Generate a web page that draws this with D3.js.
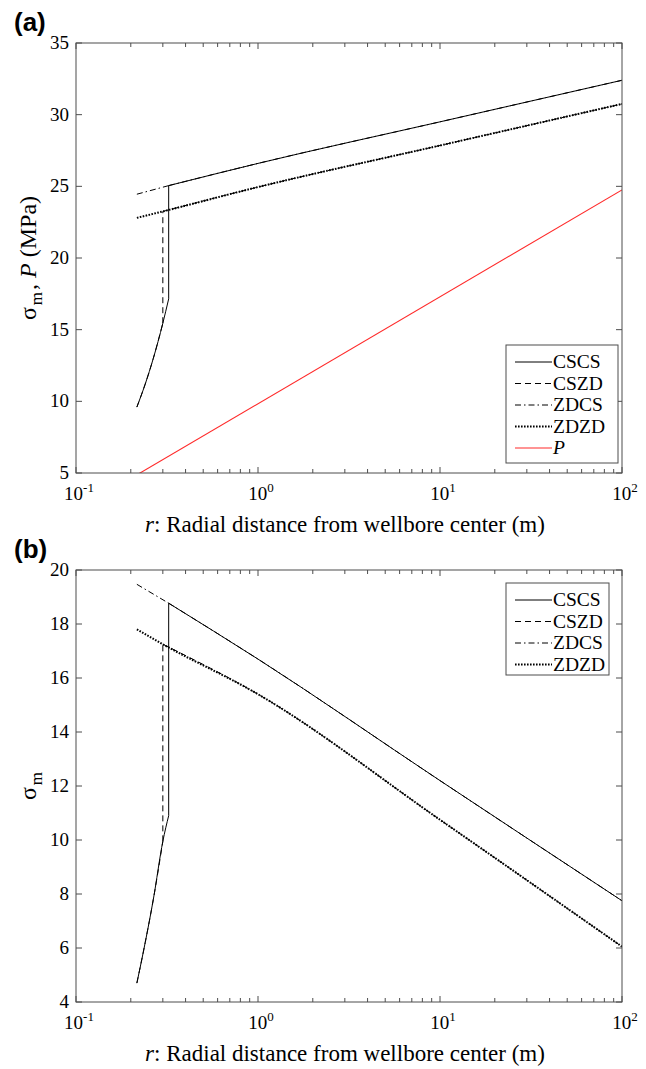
<!DOCTYPE html>
<html>
<head>
<meta charset="utf-8">
<script src="https://cdn.jsdelivr.net/npm/d3@7"></script>
<style>
  body { margin: 0; background: #fff; }
  svg { display: block; }
</style>
</head>
<body>
<svg id="drawing_region"></svg>
<script>
// ---- data ----
const seriesNames = ['CSCS', 'CSZD', 'ZDCS', 'ZDZD', 'P'];

// plastic zone (shared by CS-type failure curves)
const plasticR = [0.216, 0.240, 0.266, 0.30, 0.323];
const plasticA = [9.6, 11.2, 13.0, 15.45, 17.15];
const plasticB = [4.7, 6.2, 7.8, 9.95, 10.9];

// elastic branch after the CS jump
const elasticCSR = [0.323, 1, 10, 100];
const elasticCSA = [25.05, 26.6, 29.5, 32.4];
const elasticCSB = [18.77, 16.7, 12.2, 7.75];

// ZD branch (whole range)
const elasticZDR = [0.216, 0.30, 1, 10, 100];
const elasticZDA = [22.8, 23.25, 24.95, 27.85, 30.75];
const elasticZDB = [17.8, 17.25, 15.4, 10.75, 6.05];

// ZDCS before joining CS branch
const zdcsR = [0.216, 0.323];
const zdcsA = [24.45, 25.05];
const zdcsB = [19.47, 18.77];

// pore pressure
const pR = [0.216, 100];
const pA = [4.87, 24.75];

const yTicksA = [5, 10, 15, 20, 25, 30, 35];
const yTicksB = [4, 6, 8, 10, 12, 14, 16, 18, 20];
const xDecades = [0.1, 1, 10, 100];
const xExponents = ['-1', '0', '1', '2'];

const SERIF = '"Liberation Serif", "Times New Roman", serif';

function zip(rs, vs) { return rs.map((r, i) => ({ r: r, v: vs[i] })); }

// each series is a list of segments; segments are joined end to end
function buildSeries(plastic, csEl, zdEl, zdcs, p) {
    let out = {};
    const pl = zip(plasticR, plastic);
    const cs = zip(elasticCSR, csEl);
    const zd = zip(elasticZDR, zdEl);
    out.CSCS = [pl, [pl[4], cs[0]], cs];
    out.CSZD = [pl.slice(0, 4), [pl[3], zd[1]], zd.slice(1)];
    out.ZDCS = [zip(zdcsR, zdcs), cs];
    out.ZDZD = [zd];
    if (p) out.P = [zip(pR, p)];
    return out;
}

const styles = {
    CSCS: { color: '#000', dash: null, width: 1 },
    CSZD: { color: '#000', dash: '6,4', width: 1 },
    ZDCS: { color: '#000', dash: '6,3,1.5,3', width: 1 },
    ZDZD: { color: '#000', dash: '1.6,1.4', width: 2 },
    P:    { color: '#ff2a2a', dash: null, width: 1.1 }
};

class LogLineChart {
    constructor(config, data) {
        this.config = {
            parent: config.parent,
            left: config.left,
            top: config.top,
            width: config.width,
            height: config.height,
            yDomain: config.yDomain,
            yTicks: config.yTicks,
            tag: config.tag,
            ylabel: config.ylabel,
            legend: config.legend,
            names: config.names,
            id: config.id
        };
        this.data = data;
        this.init();
    }

    init() {
        let self = this;
        self.svg = d3.select(self.config.parent).append('g')
            .attr('transform', `translate(${self.config.left}, ${self.config.top})`);
        self.xScale = d3.scaleLog().domain([0.1, 100]).range([0, self.config.width]);
        self.yScale = d3.scaleLinear().domain(self.config.yDomain).range([self.config.height, 0]);
    }

    update() {
        let self = this;
        self.line = d3.line()
            .x(d => self.xScale(d.r))
            .y(d => self.yScale(d.v))
            .curve(d3.curveMonotoneX);
        self.render();
    }

    segPath(segs) {
        let self = this;
        // vertical jumps are 2-point segments, drawn straight
        return segs.map(s => s.length === 2 && s[0].r === s[1].r
            ? `M${self.xScale(s[0].r)},${self.yScale(s[0].v)}V${self.yScale(s[1].v)}`
            : self.line(s)).join('');
    }

    render() {
        let self = this;
        const W = self.config.width, H = self.config.height;
        const axisColor = '#4d4d4d';

        self.svg.append('clipPath').attr('id', 'clip' + self.config.id)
            .append('rect').attr('width', W).attr('height', H);

        const plot = self.svg.append('g').attr('clip-path', `url(#clip${self.config.id})`);
        self.config.names.forEach(name => {
            const st = styles[name];
            plot.append('path')
                .attr('d', self.segPath(self.data[name]))
                .attr('fill', 'none')
                .attr('stroke', st.color)
                .attr('stroke-width', st.width)
                .attr('stroke-dasharray', st.dash);
        });

        // box
        self.svg.append('rect')
            .attr('width', W).attr('height', H)
            .attr('fill', 'none').attr('stroke', axisColor).attr('stroke-width', 1);

        // x ticks (log, major + minor, inward on top and bottom)
        self.xScale.ticks().forEach(t => {
            const major = xDecades.some(d => Math.abs(d - t) < 1e-9);
            const len = major ? 6 : 4;
            const x = self.xScale(t);
            self.svg.append('line').attr('x1', x).attr('x2', x).attr('y1', H).attr('y2', H - len)
                .attr('stroke', axisColor);
            self.svg.append('line').attr('x1', x).attr('x2', x).attr('y1', 0).attr('y2', len)
                .attr('stroke', axisColor);
        });
        xDecades.forEach((d, i) => {
            const t = self.svg.append('text')
                .attr('x', self.xScale(d) + 3).attr('y', H + 27)
                .attr('text-anchor', 'middle')
                .attr('font-family', SERIF)
                .attr('font-size', 19);
            t.append('tspan').text('10');
            t.append('tspan').attr('dy', -8).attr('font-size', 13).text(xExponents[i]);
        });

        // y ticks
        self.config.yTicks.forEach(v => {
            const y = self.yScale(v);
            self.svg.append('line').attr('x1', 0).attr('x2', 6).attr('y1', y).attr('y2', y)
                .attr('stroke', axisColor);
            self.svg.append('line').attr('x1', W).attr('x2', W - 6).attr('y1', y).attr('y2', y)
                .attr('stroke', axisColor);
            self.svg.append('text')
                .attr('x', -7).attr('y', y + 6)
                .attr('text-anchor', 'end')
                .attr('font-family', SERIF)
                .attr('font-size', 19)
                .text(v);
        });

        // x label
        const xl = self.svg.append('text')
            .attr('x', W / 2 - 4).attr('y', H + 59)
            .attr('text-anchor', 'middle')
            .attr('font-family', SERIF)
            .attr('font-size', 23);
        xl.append('tspan').attr('font-style', 'italic').text('r');
        xl.append('tspan').text(': Radial distance from wellbore center (m)');

        // y label
        const yl = self.svg.append('text')
            .attr('transform', `translate(-40, ${H / 2}) rotate(-90)`)
            .attr('text-anchor', 'middle')
            .attr('font-family', SERIF)
            .attr('font-size', 24);
        self.config.ylabel(yl);

        // panel tag
        self.svg.append('text')
            .attr('x', -62).attr('y', -12)
            .attr('font-family', '"Liberation Sans", Arial, sans-serif')
            .attr('font-weight', 'bold')
            .attr('font-size', 26)
            .text(self.config.tag);

        // legend
        const lg = self.config.legend;
        const g = self.svg.append('g');
        g.append('rect')
            .attr('x', lg.x).attr('y', lg.y).attr('width', lg.w).attr('height', lg.h)
            .attr('fill', '#fff').attr('stroke', axisColor).attr('stroke-width', 1);
        self.config.names.forEach((name, i) => {
            const st = styles[name];
            const cy = lg.y + 17 + i * 21.5;
            g.append('line')
                .attr('x1', lg.x + 9).attr('x2', lg.x + 46)
                .attr('y1', cy).attr('y2', cy)
                .attr('stroke', st.color)
                .attr('stroke-width', st.width)
                .attr('stroke-dasharray', st.dash);
            g.append('text')
                .attr('x', lg.x + 47).attr('y', cy + 6)
                .attr('font-family', SERIF)
                .attr('font-size', 19.5)
                .attr('font-style', name === 'P' ? 'italic' : 'normal')
                .text(name);
        });
    }
}

d3.select('#drawing_region').attr('width', 646).attr('height', 1069);

const dataA = buildSeries(plasticA, elasticCSA, elasticZDA, zdcsA, pA);
const dataB = buildSeries(plasticB, elasticCSB, elasticZDB, zdcsB, null);

const chartA = new LogLineChart({
    parent: '#drawing_region', id: 'a',
    left: 76, top: 43, width: 546, height: 430,
    yDomain: [5, 35], yTicks: yTicksA, tag: '(a)',
    names: seriesNames,
    legend: { x: 430, y: 302, w: 112, h: 118 },
    ylabel: t => {
        t.append('tspan').text('σ');
        t.append('tspan').attr('dx', 2).attr('dy', 6).attr('font-size', 17).text('m');
        t.append('tspan').attr('dx', 2).attr('dy', -6).text(', ');
        t.append('tspan').attr('font-style', 'italic').text('P');
        t.append('tspan').text(' (MPa)');
    }
}, dataA);
chartA.update();

const chartB = new LogLineChart({
    parent: '#drawing_region', id: 'b',
    left: 76, top: 570, width: 546, height: 432,
    yDomain: [4, 20], yTicks: yTicksB, tag: '(b)',
    names: seriesNames.slice(0, 4),
    legend: { x: 430, y: 13, w: 103, h: 92 },
    ylabel: t => {
        t.append('tspan').text('σ');
        t.append('tspan').attr('dx', 2).attr('dy', 6).attr('font-size', 17).text('m');
    }
}, dataB);
chartB.update();
</script>
</body>
</html>
